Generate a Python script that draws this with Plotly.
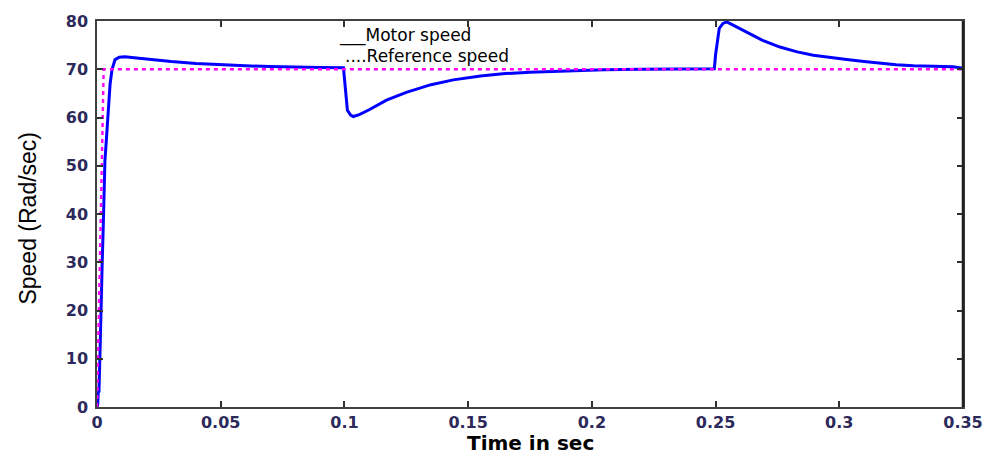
import plotly.graph_objects as go

# Motor speed response (rad/s) over time (s)
t_motor = [0, 0.0003, 0.0005, 0.0008, 0.0012, 0.0016, 0.0021, 0.0025, 0.0032, 0.0040,
           0.0046, 0.0053, 0.0061, 0.0073, 0.0090, 0.0113, 0.015, 0.02, 0.03, 0.04,
           0.05, 0.06, 0.07, 0.08, 0.09, 0.0996, 0.1000, 0.1005, 0.1012, 0.1025,
           0.1036, 0.106, 0.11, 0.117, 0.125, 0.135, 0.144, 0.155, 0.165, 0.175,
           0.19, 0.205, 0.22, 0.2495, 0.2500, 0.2505, 0.2515, 0.2530, 0.2545, 0.2565,
           0.2625, 0.269, 0.276, 0.283, 0.2895, 0.296, 0.303, 0.31, 0.3165, 0.323,
           0.33, 0.338, 0.346, 0.35]
v_motor = [0, 0.5, 3, 3.2, 11, 23.4, 30, 37, 51, 57,
           61.6, 67, 70, 72, 72.5, 72.6, 72.4, 72.1, 71.6, 71.2,
           70.9, 70.7, 70.55, 70.4, 70.35, 70.3, 68, 64, 61.5, 60.5,
           60.2, 60.6, 61.6, 63.6, 65.2, 66.8, 67.8, 68.6, 69.1, 69.4,
           69.7, 69.9, 70.0, 70.1, 73, 75, 78.5, 79.5, 79.8, 79.3,
           77.7, 76.0, 74.6, 73.6, 72.9, 72.4, 72.0, 71.6, 71.2, 70.95,
           70.7, 70.55, 70.5, 70.2]

# Reference speed command
t_ref = [0, 0.001, 0.002, 0.0027, 0.35]
v_ref = [0, 25, 50, 70, 70]

x_ticks = [0, 0.05, 0.1, 0.15, 0.2, 0.25, 0.3, 0.35]
x_tick_text = ["0", "0.05", "0.1", "0.15", "0.2", "0.25", "0.3", "0.35"]
y_ticks = [0, 10, 20, 30, 40, 50, 60, 70, 80]

tick_font = dict(family="DejaVu Sans", size=16, color="#2c2a5a", weight="bold")
legend_font = dict(family="DejaVu Sans", size=17, color="black")

fig = go.Figure()
fig.add_trace(go.Scatter(x=t_motor, y=v_motor, mode="lines",
                         line=dict(color="#0000ff", width=3), showlegend=False))
fig.add_trace(go.Scatter(x=t_ref, y=v_ref, mode="lines",
                         line=dict(color="#ff00ff", width=2.4, dash="4px,4px"),
                         showlegend=False))

fig.update_layout(
    width=995, height=454,
    margin=dict(l=97, r=32, t=15, b=47),
    plot_bgcolor="white", paper_bgcolor="white",
    xaxis=dict(range=[0, 0.35], tickvals=x_ticks, ticktext=x_tick_text,
               showgrid=False, zeroline=False, showline=True, mirror="ticks",
               linecolor="#404040", linewidth=1.5, ticks="inside", ticklen=6,
               tickcolor="#303030", tickwidth=1.5, tickfont=tick_font),
    yaxis=dict(range=[0, 80], tickvals=y_ticks, showgrid=False, zeroline=False,
               showline=True, mirror="ticks", linecolor="#404040", linewidth=1.5,
               ticks="inside", ticklen=6, tickcolor="#303030", tickwidth=1.5,
               tickfont=tick_font, ticklabelstandoff=4),
    shapes=[dict(type="line", xref="paper", yref="paper", x0=1, x1=1, y0=0, y1=1,
                 line=dict(color="#202020", width=2.5))],
    annotations=[
        dict(text="Time in sec", xref="paper", yref="paper", x=0.5, y=-0.092,
             xanchor="center", yanchor="middle", showarrow=False,
             font=dict(family="DejaVu Sans", size=20, color="black", weight="bold")),
        dict(text="Speed (Rad/sec)", xref="paper", yref="paper", x=-0.08, y=0.49,
             xanchor="center", yanchor="middle", showarrow=False, textangle=-90,
             font=dict(family="Liberation Sans", size=23, color="black")),
        dict(text="___Motor speed", xref="x", yref="y", x=0.097, y=77.0,
             xanchor="left", yanchor="middle", showarrow=False, font=legend_font),
        dict(text="....Reference speed", xref="x", yref="y", x=0.0995, y=72.7,
             xanchor="left", yanchor="middle", showarrow=False, font=legend_font),
    ],
)

fig.write_html("out.html")
